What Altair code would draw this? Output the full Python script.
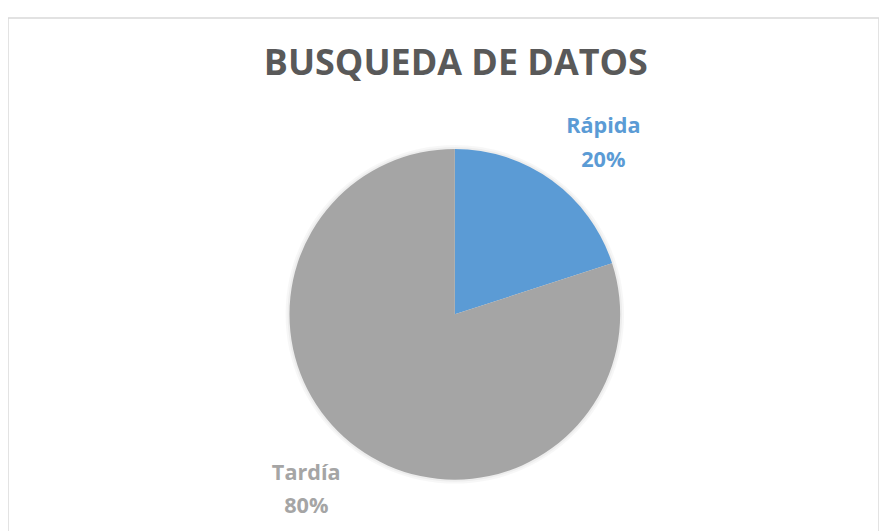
import altair as alt
import pandas as pd

categories = ["Rápida", "Tardía"]
values = [20, 80]
pct_labels = ["20%", "80%"]
colors = ["#5B9BD5", "#A5A5A5"]
title_text = "BUSQUEDA DE DATOS"

df = pd.DataFrame({
    "cat": categories,
    "value": values,
    "pct": pct_labels,
    "order": list(range(len(categories))),
})
df["label"] = df["cat"] + "\n" + df["pct"]

CX, CY, R = 454, 301, 168
FONT = "Open Sans"

base = alt.Chart(df)
theta = alt.Theta("value:Q", stack=True)
color = alt.Color("cat:N", scale=alt.Scale(domain=categories, range=colors), legend=None)
order = alt.Order("order:Q")

shadow1 = base.mark_arc(radius=R + 4, x=CX, y=CY, color="#000000", opacity=0.03).encode(theta=theta, order=order)
shadow2 = base.mark_arc(radius=R + 2, x=CX, y=CY, color="#000000", opacity=0.04).encode(theta=theta, order=order)
pie = base.mark_arc(radius=R, x=CX, y=CY).encode(theta=theta, color=color, order=order)
text = base.mark_text(
    radius=232, thetaOffset=0.08, x=CX, y=CY, dy=-15, fontSize=22, fontWeight="bold",
    font=FONT, lineBreak="\n", lineHeight=34, baseline="middle", align="center"
).encode(theta=theta, text="label:N", color=color, order=order)

title = alt.Chart(pd.DataFrame({"t": [title_text]})).mark_text(
    fontSize=36.5, fontWeight="bold", font=FONT, color="#595959",
    align="center", baseline="alphabetic"
).encode(text="t:N", x=alt.value(455), y=alt.value(58))

chart = alt.layer(shadow1, shadow2, pie, text, title).properties(
    width=885, height=525,
    padding={"left": 0, "top": 6, "right": 0, "bottom": 0},
    background="white",
).configure_view(stroke="#D9D9D9", strokeWidth=1.5)

chart.save("out.html", embed_options={"renderer": "svg", "actions": False})
